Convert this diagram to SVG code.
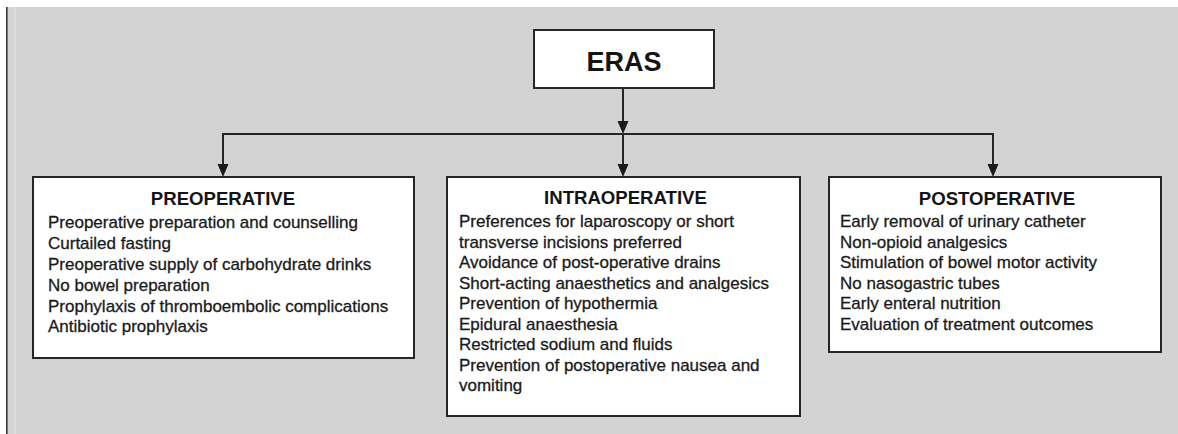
<svg xmlns="http://www.w3.org/2000/svg" width="1178" height="434" viewBox="0 0 1178 434">
<style>
.box{fill:#fff;stroke:#262626;stroke-width:2}
.ttl{font-family:"Liberation Sans",Arial,sans-serif;font-weight:bold;font-size:18.6px;fill:#141414;text-anchor:middle}
.txt{font-family:"Liberation Sans",Arial,sans-serif;font-size:17px;fill:#1a1a1a;stroke:#1a1a1a;stroke-width:0.3}
.ln{fill:none;stroke:#262626;stroke-width:2}
.ah{fill:#1a1a1a}
</style>
<rect x="0" y="0" width="1178" height="434" fill="#fff"/>
<rect x="7" y="7" width="1171" height="427" fill="#d3d3d3"/>
<rect x="6" y="7" width="1.6" height="427" fill="#3a3a3a"/>
<rect x="14" y="7" width="2" height="427" fill="#dcdcdc"/>
<g id="connectors">
<line class="ln" x1="623" y1="88" x2="623" y2="124"/>
<path class="ah" d="M617.5,121 L628.5,121 L623,134 Z"/>
<polyline class="ln" points="223,166 223,134 993,134 993,166"/>
<line class="ln" x1="623" y1="134" x2="623" y2="166"/>
<path class="ah" d="M217.5,164 L228.5,164 L223,177 Z"/>
<path class="ah" d="M617.5,164 L628.5,164 L623,177 Z"/>
<path class="ah" d="M987.5,164 L998.5,164 L993,177 Z"/>
</g>
<g id="eras">
<rect class="box" x="534" y="30" width="180" height="58"/>
<text x="624" y="71" font-family="'Liberation Sans',Arial,sans-serif" font-weight="bold" font-size="27" fill="#141414" text-anchor="middle">ERAS</text>
</g>
<g id="preoperative">
<rect class="box" x="33" y="177" width="381" height="181"/>
<text class="ttl" x="223" y="205">PREOPERATIVE</text>
<text class="txt" x="48" y="228">Preoperative preparation and counselling</text>
<text class="txt" x="48" y="249">Curtailed fasting</text>
<text class="txt" x="48" y="270">Preoperative supply of carbohydrate drinks</text>
<text class="txt" x="48" y="291">No bowel preparation</text>
<text class="txt" x="48" y="311.5">Prophylaxis of thromboembolic complications</text>
<text class="txt" x="48" y="332">Antibiotic prophylaxis</text>
</g>
<g id="intraoperative">
<rect class="box" x="447" y="177" width="353" height="239"/>
<text class="ttl" x="625.5" y="204">INTRAOPERATIVE</text>
<text class="txt" x="459" y="227">Preferences for laparoscopy or short</text>
<text class="txt" x="459" y="247.5">transverse incisions preferred</text>
<text class="txt" x="459" y="268">Avoidance of post-operative drains</text>
<text class="txt" x="459" y="288.5">Short-acting anaesthetics and analgesics</text>
<text class="txt" x="459" y="309">Prevention of hypothermia</text>
<text class="txt" x="459" y="329.5">Epidural anaesthesia</text>
<text class="txt" x="459" y="350">Restricted sodium and fluids</text>
<text class="txt" x="459" y="370.5">Prevention of postoperative nausea and</text>
<text class="txt" x="459" y="391">vomiting</text>
</g>
<g id="postoperative">
<rect class="box" x="829" y="177" width="332" height="175"/>
<text class="ttl" x="997" y="205">POSTOPERATIVE</text>
<text class="txt" x="840" y="227">Early removal of urinary catheter</text>
<text class="txt" x="840" y="247.5">Non-opioid analgesics</text>
<text class="txt" x="840" y="268">Stimulation of bowel motor activity</text>
<text class="txt" x="840" y="288.5">No nasogastric tubes</text>
<text class="txt" x="840" y="309">Early enteral nutrition</text>
<text class="txt" x="840" y="329.5">Evaluation of treatment outcomes</text>
</g>
</svg>
